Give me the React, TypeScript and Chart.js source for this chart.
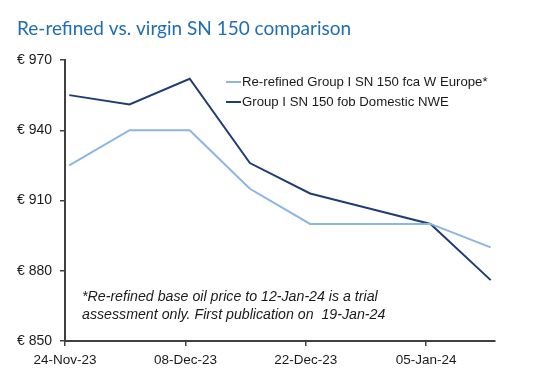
import React, { useEffect, useRef } from "react";
import { Chart, registerables } from "chart.js";

Chart.register(...registerables);

// ---- data ----
const startDate = "2023-11-24";
const dates = [
  "2023-11-24", "2023-12-01", "2023-12-08", "2023-12-15",
  "2023-12-22", "2023-12-29", "2024-01-05", "2024-01-12",
];
const reRefined = [925, 940, 940, 915, 900, 900, 900, 890];
const groupI = [955, 951, 962, 926, 913, 906.5, 900, 876];
const seriesLabels = [
  "Re-refined Group I SN 150 fca W Europe*",
  "Group I SN 150 fob Domestic NWE",
];
const tickDates = ["2023-11-24", "2023-12-08", "2023-12-22", "2024-01-05"];
const tickLabels = ["24-Nov-23", "08-Dec-23", "22-Dec-23", "05-Jan-24"];
const axisEndDate = "2024-01-13";
const yMin = 850;
const yMax = 970;
const yStep = 30;
const titleText = "Re-refined vs. virgin SN 150 comparison";
const noteLines = [
  "*Re-refined base oil price to 12-Jan-24 is a trial",
  "assessment only. First publication on  19-Jan-24",
];

const DAY = 86400000;
const dayOf = (d: string) => (Date.parse(d) - Date.parse(startDate)) / DAY;

const LIGHT = "#8db4e2";
const DARK = "#1f3d73";
const AXIS = "#404040";
const TEXT = "#1a1a1a";
const FONT = "'Liberation Sans', Arial, sans-serif";

export default function App() {
  const ref = useRef<HTMLCanvasElement | null>(null);

  useEffect(() => {
    const canvas = ref.current;
    if (!canvas) return;

    const overlay = {
      id: "overlay",
      afterDraw(chart: any) {
        const ctx = chart.ctx;
        ctx.save();
        // title
        ctx.fillStyle = "#1f6db5";
        ctx.font = "19px Lato, 'Open Sans', sans-serif";
        ctx.textBaseline = "alphabetic";
        ctx.textAlign = "left";
        ctx.fillText(titleText, 17, 35);

        // legend
        const colors = [LIGHT, DARK];
        ctx.font = `13.2px ${FONT}`;
        ctx.textBaseline = "middle";
        seriesLabels.forEach((lab, i) => {
          const y = 82 + i * 20;
          ctx.strokeStyle = colors[i];
          ctx.lineWidth = 2;
          ctx.beginPath();
          ctx.moveTo(226, y);
          ctx.lineTo(241, y);
          ctx.stroke();
          ctx.fillStyle = TEXT;
          ctx.fillText(lab, 242, y + 0.5);
        });

        // note
        ctx.font = `italic 14.2px ${FONT}`;
        noteLines.forEach((l, i) => {
          ctx.fillText(l, 82, 297 + i * 18);
        });
        ctx.restore();
      },
    };

    const chart = new Chart(canvas, {
      type: "line",
      data: {
        datasets: [
          {
            label: seriesLabels[0],
            data: dates.map((d, i) => ({ x: dayOf(d) + 0.5, y: reRefined[i] })),
            borderColor: LIGHT,
            borderWidth: 2,
            pointRadius: 0,
            tension: 0,
          },
          {
            label: seriesLabels[1],
            data: dates.map((d, i) => ({ x: dayOf(d) + 0.5, y: groupI[i] })),
            borderColor: DARK,
            borderWidth: 2,
            pointRadius: 0,
            tension: 0,
          },
        ],
      },
      options: {
        animation: false,
        responsive: false,
        maintainAspectRatio: false,
        layout: { padding: { left: 0, top: 60, right: 65, bottom: 0 } },
        plugins: {
          legend: { display: false },
          title: { display: false },
          tooltip: { enabled: false },
        },
        scales: {
          x: {
            type: "linear",
            min: 0,
            max: dayOf(axisEndDate),
            bounds: "data",
            afterBuildTicks: (scale: any) => {
              scale.ticks = tickDates.map((d) => ({ value: dayOf(d) }));
            },
            afterFit: (scale: any) => {
              scale.height = 40;
            },
            ticks: {
              autoSkip: false,
              maxRotation: 0,
              padding: 6,
              color: TEXT,
              font: { family: FONT, size: 13.5 },
              callback: (v: any) => {
                const idx = tickDates.findIndex((d) => dayOf(d) === v);
                return idx >= 0 ? tickLabels[idx] : "";
              },
            },
            grid: {
              drawOnChartArea: false,
              drawTicks: true,
              tickLength: 5,
              color: AXIS,
              lineWidth: 1.5,
            },
            border: { display: true, color: AXIS, width: 2 },
          },
          y: {
            type: "linear",
            min: yMin,
            max: yMax,
            afterFit: (scale: any) => {
              scale.width = 65;
            },
            ticks: {
              stepSize: yStep,
              padding: 8,
              color: TEXT,
              font: { family: FONT, size: 14 },
              callback: (v: any) => "€ " + v,
            },
            grid: {
              drawOnChartArea: false,
              drawTicks: true,
              tickLength: 5,
              color: AXIS,
              lineWidth: 1.5,
            },
            border: { display: true, color: AXIS, width: 2 },
          },
        },
      },
      plugins: [overlay],
    } as any);

    return () => chart.destroy();
  }, []);

  return (
    <div style={{ position: "fixed", left: 0, top: 0, width: 560, height: 381, background: "#fff" }}>
      <canvas ref={ref} width={560} height={381} style={{ width: 560, height: 381 }} />
    </div>
  );
}
